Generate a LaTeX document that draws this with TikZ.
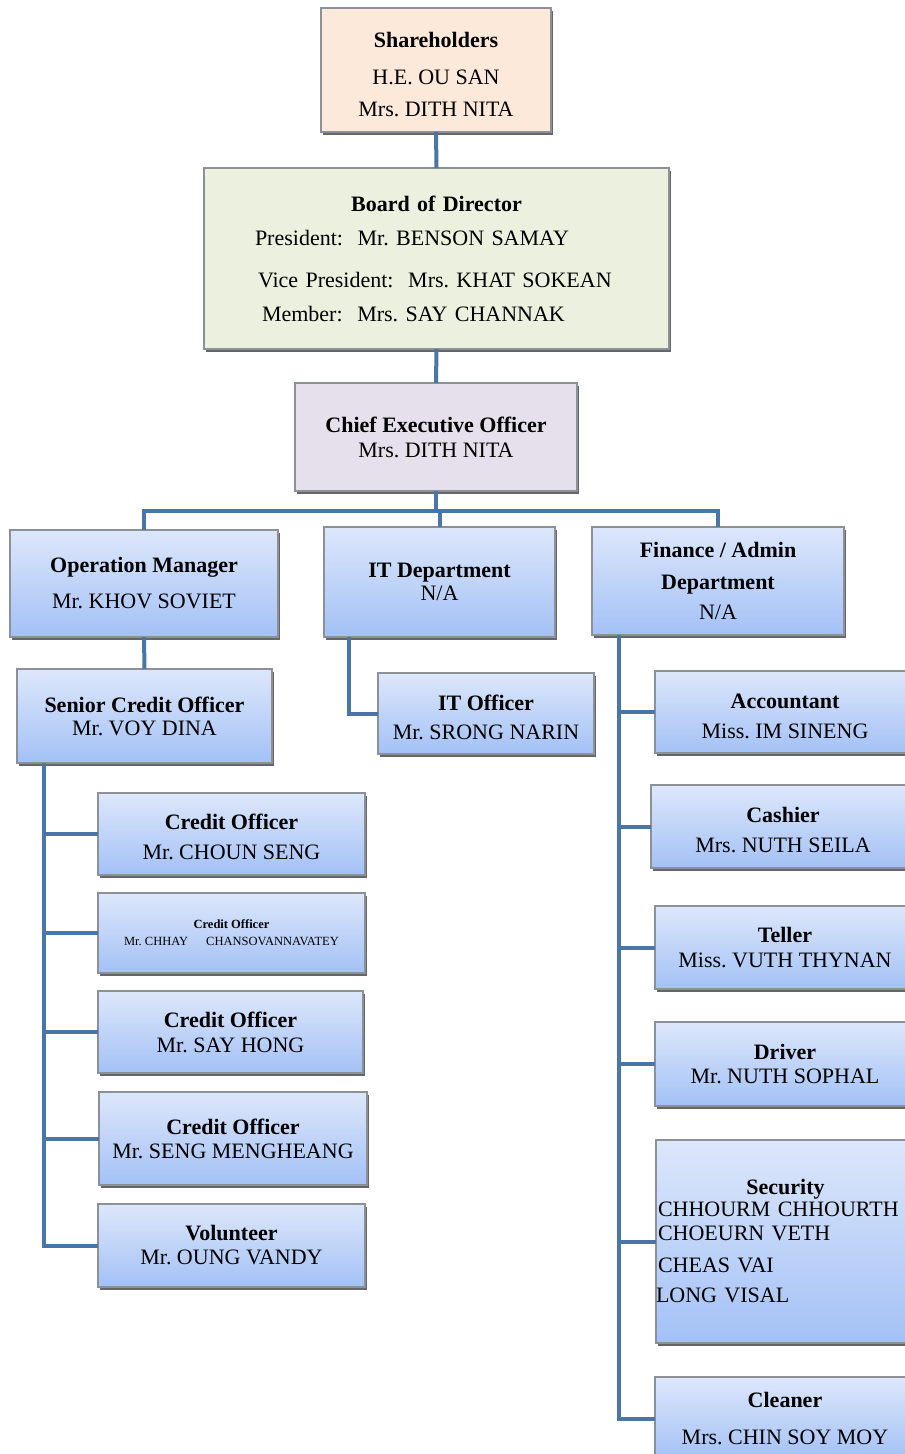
\documentclass[tikz,border=0pt]{standalone}
\usepackage{fontspec}
\setmainfont{Liberation Serif}
\usetikzlibrary{shadows,calc}
\definecolor{lnk}{HTML}{4A75A9}
\definecolor{peach}{HTML}{FDE9D9}
\definecolor{sage}{HTML}{EBF1DE}
\definecolor{lav}{HTML}{E5E0EC}
\definecolor{btop}{HTML}{DDE7FB}
\definecolor{bbot}{HTML}{A3C1F6}
\definecolor{edgegray}{HTML}{8C9199}
\newcommand{\lowerby}[1]{\rule{0pt}{\dimexpr 15pt+2\dimexpr #1\relax\relax}}
\tikzset{
  base/.style={draw=edgegray, line width=1.2pt, inner sep=0pt, outer sep=0pt, align=center,
    font=\fontsize{22}{24}\selectfont\frenchspacing,
    drop shadow={shadow xshift=2pt, shadow yshift=-3pt, fill=black!60, opacity=1}},
  flat/.style={base, fill=#1},
  grad/.style={base, top color=btop, bottom color=bbot},
  link/.style={draw=lnk, line width=4pt},
}
\begin{document}
\begin{tikzpicture}[x=1pt,y=-1pt]
\useasboundingbox (0,0) rectangle (905,1454);
% top chain
\node[flat=peach, minimum width=230pt, minimum height=124pt] (sh) at (436,70)
  {\lowerby{5pt}\textbf{Shareholders}\\[13pt]H.E. OU SAN\\[8pt]Mrs. DITH NITA};
\node[flat=sage, minimum width=465pt, minimum height=181pt, text width=465pt, align=left] (bod) at (436.5,258.5)
  {\makebox[\linewidth]{\textbf{Board of Director}}\\[10pt]
   \hspace*{51pt}President:\ \ Mr. BENSON SAMAY\\[18pt]
   \hspace*{54pt}Vice President:\ \ Mrs. KHAT SOKEAN\\[10pt]
   \hspace*{58pt}Member:\ \ Mrs. SAY CHANNAK};
\node[flat=lav, minimum width=282pt, minimum height=108pt] (ceo) at (436,437)
  {\textbf{Chief Executive Officer}\\[1pt]Mrs. DITH NITA};
% second level
\node[grad, minimum width=268pt, minimum height=107pt] (om) at (144,583.5)
  {\textbf{Operation Manager}\\[12pt]Mr. KHOV SOVIET};
\node[grad, minimum width=231pt, minimum height=110pt] (itd) at (439.5,582)
  {\textbf{IT Department}\\[-1pt]N/A};
\node[grad, minimum width=252pt, minimum height=108pt] (fin) at (718,581)
  {\textbf{Finance / Admin}\\[8pt]\textbf{Department}\\[6pt]N/A};
% operations branch
\node[grad, minimum width=255pt, minimum height=94pt] (sco) at (144.5,716)
  {\textbf{Senior Credit Officer}\\[-1pt]Mr. VOY DINA};
\node[grad, minimum width=267pt, minimum height=82pt] (co1) at (231.5,834)
  {\lowerby{3pt}\textbf{Credit Officer}\\[6pt]Mr. CHOUN SENG};
\node[grad, minimum width=267pt, minimum height=80pt, font=\fontsize{12.5}{17}\selectfont\frenchspacing] (co2) at (231.5,933)
  {\textbf{Credit Officer}\\Mr. CHHAY\hspace{18pt}CHANSOVANNAVATEY};
\node[grad, minimum width=265pt, minimum height=82pt] (co3) at (230.5,1032)
  {\textbf{Credit Officer}\\[1pt]Mr. SAY HONG};
\node[grad, minimum width=268pt, minimum height=93pt] (co4) at (233,1138.5)
  {\textbf{Credit Officer}\\[0pt]Mr. SENG MENGHEANG};
\node[grad, minimum width=267pt, minimum height=83pt] (vol) at (231.5,1245.5)
  {\textbf{Volunteer}\\[0pt]Mr. OUNG VANDY};
% IT branch
\node[grad, minimum width=216pt, minimum height=81pt] (ito) at (486,713.5)
  {\lowerby{4pt}\textbf{IT Officer}\\[5pt]Mr. SRONG NARIN};
% finance branch
\node[grad, minimum width=260pt, minimum height=82pt] (acc) at (785,712)
  {\lowerby{4pt}\textbf{Accountant}\\[6pt]Miss. IM SINENG};
\node[grad, minimum width=264pt, minimum height=83pt] (cash) at (783,826.5)
  {\lowerby{4pt}\textbf{Cashier}\\[6pt]Mrs. NUTH SEILA};
\node[grad, minimum width=260pt, minimum height=83pt] (tel) at (785,947.5)
  {\textbf{Teller}\\[1pt]Miss. VUTH THYNAN};
\node[grad, minimum width=260pt, minimum height=84pt] (drv) at (785,1064)
  {\textbf{Driver}\\[0pt]Mr. NUTH SOPHAL};
\node[grad, minimum width=259pt, minimum height=203pt, text width=259pt, align=left] (sec) at (785.5,1241.5)
  {\makebox[\linewidth]{\textbf{Security}}\\[-2pt]
   \hspace*{2pt}CHHOURM CHHOURTH\\[0pt]
   \hspace*{2pt}CHOEURN VETH\\[8pt]
   \hspace*{2pt}CHEAS VAI\\[6pt]
   LONG VISAL};
\node[grad, minimum width=260pt, minimum height=83pt] (cln) at (785,1418.5)
  {\textbf{Cleaner}\\[13pt]Mrs. CHIN SOY MOY};
% connectors
\coordinate (bus) at (436,511);
\draw[link] (sh.south) -- (bod.north);
\draw[link] (bod.south) -- (ceo.north);
\draw[link] (ceo.south) -- (bus);
\draw[link] (bus) -| (om.north);
\draw[link] (bus) -| (itd.north);
\draw[link] (bus) -| (fin.north);
\draw[link] (om.south) -- (sco.north);
\draw[link] ([xshift=25pt]itd.south west) |- (ito.west);
\coordinate (ss) at ([xshift=27pt]sco.south west);
\foreach \t in {co1,co2,co3,co4,vol} \draw[link] (ss) |- (\t.west);
\coordinate (fs) at ([xshift=27pt]fin.south west);
\foreach \t in {acc,cash,tel,drv,sec,cln} \draw[link] (fs) |- (\t.west);
\end{tikzpicture}
\end{document}
